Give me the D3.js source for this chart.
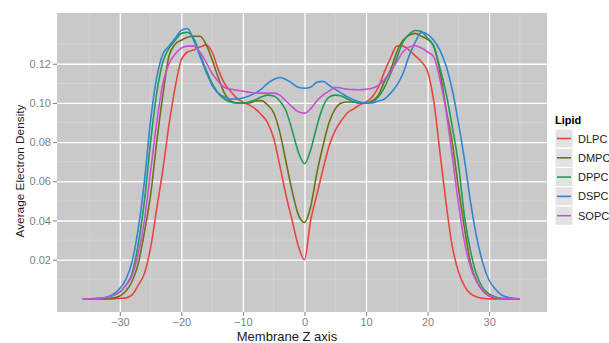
<!DOCTYPE html>
<html>
<head>
<meta charset="utf-8">
<script src="https://cdn.jsdelivr.net/npm/d3@7"></script>
<style>
  body { margin: 0; background: #fff; }
  text { font-family: "Liberation Sans", Arial, sans-serif; }
</style>
</head>
<body>
<svg id="chart" width="609" height="343"></svg>
<script>
// membrane z positions (Angstrom), one sample per unit
const z = d3.range(-36, 36)

const lipids = ["DLPC", "DMPC", "DPPC", "DSPC", "SOPC"]
const colors = ["#e8463f", "#6f7016", "#21995a", "#2f86d6", "#c94fd6"]

const xTicks = [-30, -20, -10, 0, 10, 20, 30]
const yTicks = [0.02, 0.04, 0.06, 0.08, 0.10, 0.12]

// average electron density per lipid
const DLPC = [0, 0, 0, 0, 0, 0, 0.0003, 0.0005, 0.002, 0.007, 0.013, 0.026, 0.046, 0.066, 0.089, 0.108,
  0.122, 0.126, 0.127, 0.1285, 0.1295, 0.126, 0.117, 0.110, 0.106, 0.1025, 0.1005, 0.099, 0.097, 0.094,
  0.090, 0.082, 0.068, 0.053, 0.040, 0.027, 0.020, 0.040, 0.053, 0.066, 0.078, 0.086, 0.091, 0.095,
  0.097, 0.099, 0.1005, 0.103, 0.108, 0.116, 0.123, 0.129, 0.129, 0.127, 0.124, 0.121, 0.116, 0.101,
  0.075, 0.049, 0.027, 0.014, 0.0065, 0.0025, 0.001, 0.0003, 0, 0, 0, 0, 0, 0]
const DMPC = [0, 0, 0, 0, 0.0002, 0.0005, 0.0015, 0.004, 0.009, 0.018, 0.034, 0.053, 0.080, 0.104, 0.124, 0.130,
  0.132, 0.1335, 0.134, 0.134, 0.130, 0.122, 0.113, 0.105, 0.101, 0.100, 0.100, 0.100, 0.101, 0.1012,
  0.099, 0.095, 0.085, 0.070, 0.055, 0.043, 0.039, 0.047, 0.064, 0.078, 0.090, 0.097, 0.100, 0.1005,
  0.1005, 0.100, 0.100, 0.101, 0.104, 0.111, 0.117, 0.126, 0.132, 0.1345, 0.1355, 0.134, 0.1325, 0.129,
  0.116, 0.097, 0.080, 0.057, 0.036, 0.018, 0.009, 0.004, 0.0015, 0.0005, 0.0002, 0, 0, 0]
const DPPC = [0, 0, 0.0001, 0.0003, 0.0008, 0.002, 0.0035, 0.007, 0.013, 0.028, 0.050, 0.080, 0.105, 0.121, 0.128, 0.132,
  0.1355, 0.136, 0.133, 0.125, 0.117, 0.110, 0.105, 0.102, 0.1005, 0.100, 0.100, 0.1005, 0.1015, 0.103,
  0.104, 0.1035, 0.101, 0.096, 0.086, 0.075, 0.069, 0.076, 0.088, 0.098, 0.103, 0.104, 0.1035, 0.102,
  0.1005, 0.100, 0.100, 0.1005, 0.103, 0.108, 0.115, 0.123, 0.131, 0.135, 0.137, 0.1365, 0.133, 0.129,
  0.118, 0.105, 0.088, 0.069, 0.042, 0.024, 0.012, 0.0055, 0.0025, 0.001, 0.0003, 0.0001, 0, 0]
const DSPC = [0, 0, 0.0002, 0.0004, 0.001, 0.0025, 0.0053, 0.010, 0.019, 0.036, 0.060, 0.091, 0.113, 0.125, 0.129, 0.133,
  0.137, 0.138, 0.132, 0.124, 0.116, 0.109, 0.105, 0.103, 0.102, 0.102, 0.1025, 0.1035, 0.105, 0.107,
  0.110, 0.112, 0.113, 0.112, 0.110, 0.108, 0.1075, 0.108, 0.1105, 0.111, 0.109, 0.107, 0.105, 0.103,
  0.1015, 0.1005, 0.100, 0.100, 0.101, 0.102, 0.105, 0.109, 0.115, 0.124, 0.131, 0.136, 0.135, 0.132,
  0.127, 0.119, 0.107, 0.090, 0.071, 0.049, 0.031, 0.018, 0.0095, 0.005, 0.002, 0.0008, 0.0003, 0]
const SOPC = [0, 0, 0.0001, 0.0003, 0.0008, 0.0018, 0.0035, 0.007, 0.012, 0.023, 0.040, 0.065, 0.090, 0.110, 0.120, 0.125,
  0.128, 0.129, 0.129, 0.126, 0.121, 0.115, 0.111, 0.108, 0.107, 0.1065, 0.106, 0.1055, 0.105, 0.105,
  0.105, 0.105, 0.104, 0.101, 0.098, 0.0955, 0.0948, 0.097, 0.101, 0.104, 0.106, 0.108, 0.1075, 0.107,
  0.1068, 0.1067, 0.107, 0.1075, 0.109, 0.112, 0.116, 0.121, 0.126, 0.1285, 0.1292, 0.128, 0.126, 0.1235,
  0.112, 0.096, 0.073, 0.049, 0.029, 0.016, 0.0085, 0.004, 0.0018, 0.0008, 0.0003, 0.0001, 0, 0]

const seriesValues = [DLPC, DMPC, DPPC, DSPC, SOPC]

const panel = {left: 57, right: 547, top: 13, bottom: 312}

const svg = d3.select("#chart")

const x = d3.scaleLinear()
  .domain([-40.2, 39.4])
  .range([panel.left, panel.right])
const y = d3.scaleLinear()
  .domain([-0.0067, 0.1459])
  .range([panel.bottom, panel.top])

// Panel background.
svg.append("rect")
    .attr("x", panel.left)
    .attr("y", panel.top)
    .attr("width", panel.right - panel.left)
    .attr("height", panel.bottom - panel.top)
    .attr("fill", "#c9c9c9")

// Minor grid lines halfway between the majors.
const xMinor = [-35, -25, -15, -5, 5, 15, 25, 35]
const yMinor = [0.01, 0.03, 0.05, 0.07, 0.09, 0.11, 0.13]
const grid = svg.append("g")
grid.selectAll(".xminor")
  .data(xMinor)
  .join("line")
    .attr("x1", d => x(d)).attr("x2", d => x(d))
    .attr("y1", panel.top).attr("y2", panel.bottom)
    .attr("stroke", "#d9d9d9").attr("stroke-width", 0.6)
grid.selectAll(".yminor")
  .data(yMinor)
  .join("line")
    .attr("x1", panel.left).attr("x2", panel.right)
    .attr("y1", d => y(d)).attr("y2", d => y(d))
    .attr("stroke", "#d9d9d9").attr("stroke-width", 0.6)

// Major grid lines come from the axes themselves.
svg.append("g")
    .attr("transform", `translate(0,${panel.bottom})`)
    .call(d3.axisBottom(x).tickValues(xTicks).tickSize(panel.top - panel.bottom).tickFormat(""))
    .call(g => g.select(".domain").remove())
    .call(g => g.selectAll("line").attr("stroke", "#fff").attr("stroke-width", 1.3))
svg.append("g")
    .attr("transform", `translate(${panel.left},0)`)
    .call(d3.axisLeft(y).tickValues(yTicks).tickSize(panel.left - panel.right).tickFormat(""))
    .call(g => g.select(".domain").remove())
    .call(g => g.selectAll("line").attr("stroke", "#fff").attr("stroke-width", 1.3))

// Density lines.
const line = d3.line()
  .x((d, i) => x(z[i]))
  .y(d => y(d))
  .curve(d3.curveMonotoneX)

svg.append("g")
  .selectAll("path")
  .data(seriesValues)
  .join("path")
    .attr("d", d => line(d))
    .attr("fill", "none")
    .attr("stroke", (d, i) => colors[i])
    .attr("stroke-width", 1.6)
    .attr("stroke-linejoin", "round")

// Axis ticks and labels.
svg.append("g")
    .attr("transform", `translate(0,${panel.bottom})`)
    .call(d3.axisBottom(x).tickValues(xTicks).tickSize(4).tickPadding(2).tickFormat(d => d < 0 ? "\u2212" + (-d) : d))
    .call(g => g.select(".domain").remove())
    .call(g => g.selectAll("line").attr("stroke", "#7f7f7f").attr("stroke-width", 1))
    .call(g => g.selectAll("text").attr("fill", "#7f7f7f").attr("font-size", 11)
      .attr("font-family", "Liberation Sans, Arial, sans-serif"))
svg.append("g")
    .attr("transform", `translate(${panel.left},0)`)
    .call(d3.axisLeft(y).tickValues(yTicks).tickSize(4).tickPadding(2).tickFormat(d3.format(".2f")))
    .call(g => g.select(".domain").remove())
    .call(g => g.selectAll("line").attr("stroke", "#7f7f7f").attr("stroke-width", 1))
    .call(g => g.selectAll("text").attr("fill", "#7f7f7f").attr("font-size", 11)
      .attr("font-family", "Liberation Sans, Arial, sans-serif"))

// Axis titles.
svg.append("text")
    .attr("x", 287)
    .attr("y", 341)
    .attr("text-anchor", "middle")
    .attr("font-size", 13)
    .attr("fill", "#1a1a1a")
    .text("Membrane Z axis")
svg.append("text")
    .attr("transform", "translate(24,171) rotate(-90)")
    .attr("text-anchor", "middle")
    .attr("font-size", 11.8)
    .attr("fill", "#1a1a1a")
    .text("Average Electron Density")

// Legend.
const legend = svg.append("g").attr("transform", "translate(555,114)")
legend.append("text")
    .attr("x", 0)
    .attr("y", 10)
    .attr("font-size", 11)
    .attr("font-weight", "bold")
    .text("Lipid")
const item = legend.selectAll(".item")
  .data(lipids)
  .join("g")
    .attr("transform", (d, i) => `translate(0,${15 + i * 19.3})`)
item.append("rect")
    .attr("width", 18)
    .attr("height", 19)
    .attr("fill", "#e2e2e2")
    .attr("stroke", "#fff")
item.append("line")
    .attr("x1", 2).attr("x2", 16)
    .attr("y1", 9.5).attr("y2", 9.5)
    .attr("stroke", (d, i) => colors[i])
    .attr("stroke-width", 1.6)
item.append("text")
    .attr("x", 23)
    .attr("y", 13.5)
    .attr("font-size", 11)
    .attr("fill", "#1a1a1a")
    .text(d => d)
</script>
</body>
</html>
